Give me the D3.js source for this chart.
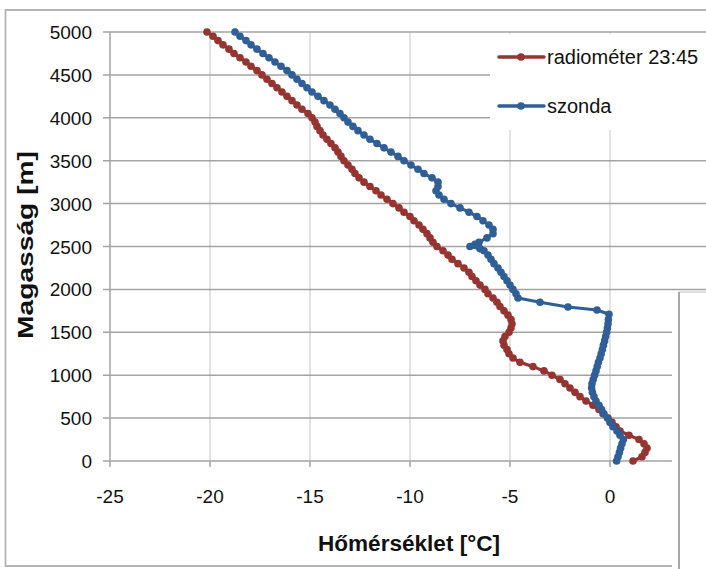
<!DOCTYPE html>
<html>
<head>
<meta charset="utf-8">
<script src="https://cdn.jsdelivr.net/npm/d3@7"></script>
<style>
  body { margin: 0; background: #fff; }
  text { font-family: "Liberation Sans", Arial, sans-serif; fill: #111; }
</style>
</head>
<body>
<script>
// radiometer profile, 50 m steps from 0 to 5000 m
var radioHeights = d3.range(0, 5001, 50);
var radioTemps = [
  1.15, 1.6, 1.75, 1.85, 1.7, 1.45, 0.95, 0.5, 0.3, 0.1,
  -0.1, -0.35, -0.55, -0.85, -1.2, -1.5, -1.75, -2.0, -2.25, -2.5,
  -2.9, -3.3, -3.85, -4.5, -4.85, -5.05, -5.15, -5.3, -5.35, -5.25,
  -5.05, -4.95, -4.9, -4.95, -5.1, -5.3, -5.5, -5.65, -5.85, -6.1,
  -6.25, -6.5, -6.7, -6.9, -7.05, -7.3, -7.6, -7.9, -8.1, -8.35,
  -8.65, -8.85, -9.0, -9.15, -9.35, -9.55, -9.8, -10.0, -10.3, -10.55,
  -10.85, -11.15, -11.45, -11.7, -12.0, -12.3, -12.55, -12.75, -12.9, -13.1,
  -13.3, -13.45, -13.6, -13.75, -13.95, -14.15, -14.35, -14.5, -14.65, -14.75,
  -14.9, -15.1, -15.4, -15.65, -15.9, -16.15, -16.4, -16.65, -16.9, -17.15,
  -17.4, -17.65, -17.95, -18.2, -18.5, -18.8, -19.05, -19.35, -19.6, -19.85,
  -20.15
];

// radiosonde profile
var sondeHeights = [
  0, 50, 100, 150, 200, 250, 300, 350, 400, 450,
  500, 550, 600, 650, 700, 750, 800, 850, 900, 950,
  1000, 1050, 1100, 1150, 1200, 1250, 1300, 1350, 1400, 1450,
  1500, 1550, 1600, 1650, 1710, 1760, 1795, 1850, 1900, 1950,
  2000, 2050, 2100, 2150, 2200, 2250, 2300, 2350, 2400, 2450,
  2475, 2500, 2525, 2550, 2600, 2650, 2700, 2750, 2800, 2850,
  2900, 2950, 3000, 3050, 3100, 3150, 3200, 3250, 3300, 3350,
  3400, 3450, 3500, 3550, 3600, 3650, 3700, 3750, 3800, 3850,
  3900, 3950, 4000, 4050, 4100, 4150, 4200, 4250, 4300, 4350,
  4400, 4450, 4500, 4550, 4600, 4650, 4700, 4750, 4800, 4850,
  4900, 4950, 5000
];
var sondeTemps = [
  0.33, 0.4, 0.47, 0.53, 0.6, 0.67, 0.5, 0.35, 0.15, 0.0,
  -0.13, -0.3, -0.42, -0.55, -0.7, -0.8, -0.88, -0.92, -0.9, -0.84,
  -0.77, -0.7, -0.64, -0.58, -0.5, -0.44, -0.38, -0.33, -0.27, -0.22,
  -0.17, -0.13, -0.1, -0.08, -0.05, -0.65, -2.1, -3.5, -4.6, -4.7,
  -4.85, -5.0, -5.15, -5.3, -5.45, -5.6, -5.8, -5.95, -6.1, -6.3,
  -6.5, -7.0, -6.75, -6.55, -6.15, -5.85, -5.85, -6.05, -6.35, -6.65,
  -7.05, -7.5, -7.95, -8.3, -8.55, -8.7, -8.6, -8.6, -8.9, -9.3,
  -9.6, -9.95, -10.3, -10.6, -10.95, -11.3, -11.65, -12.0, -12.3, -12.6,
  -12.85, -13.1, -13.3, -13.5, -13.75, -14.0, -14.3, -14.6, -14.9, -15.15,
  -15.4, -15.65, -15.9, -16.15, -16.45, -16.75, -17.05, -17.35, -17.65, -17.95,
  -18.2, -18.5, -18.75
];

// visible x ticks (the 5 tick falls under the overlapping frame)
var xTicks = [-25, -20, -15, -10, -5, 0];
var yTicks = d3.range(0, 5001, 500);
var seriesNames = ["radiométer 23:45", "szonda"];
var seriesColors = ["#953431", "#2f5f96"];

var W = 706, H = 569;
var svg = d3.select("body").append("svg").attr("width", W).attr("height", H);

var x = d3.scaleLinear().domain([-25, 5]).range([110, 710]);
var y = d3.scaleLinear().domain([0, 5000]).range([461, 32]);

// vertical grid
svg.append("g").selectAll("line").data(xTicks.slice(1)).enter().append("line")
  .attr("x1", function(d) { return x(d); }).attr("x2", function(d) { return x(d); })
  .attr("y1", y(5000)).attr("y2", y(0))
  .attr("stroke", "#d9d9d9").attr("stroke-width", 1.5);

// horizontal grid
svg.append("g").selectAll("line").data(yTicks).enter().append("line")
  .attr("x1", 103).attr("x2", 710)
  .attr("y1", function(d) { return y(d); }).attr("y2", function(d) { return y(d); })
  .attr("stroke", "#a3a3a3").attr("stroke-width", 1.5);

// y axis line
svg.append("line").attr("x1", x(-25)).attr("x2", x(-25))
  .attr("y1", y(5000)).attr("y2", y(0))
  .attr("stroke", "#a3a3a3").attr("stroke-width", 1.5);

// x ticks below axis
svg.append("g").selectAll("line").data(xTicks).enter().append("line")
  .attr("x1", function(d) { return x(d); }).attr("x2", function(d) { return x(d); })
  .attr("y1", y(0)).attr("y2", y(0) + 6)
  .attr("stroke", "#a3a3a3").attr("stroke-width", 1.5);

// tick labels
svg.append("g").selectAll("text").data(yTicks).enter().append("text")
  .attr("x", 92).attr("y", function(d) { return y(d) + 7; })
  .attr("text-anchor", "end").style("font-size", "19px")
  .text(function(d) { return d; });

svg.append("g").selectAll("text").data(xTicks).enter().append("text")
  .attr("x", function(d) { return x(d); }).attr("y", 503)
  .attr("text-anchor", "middle").style("font-size", "19px")
  .text(function(d) { return d; });

// series
var line = d3.line()
  .x(function(d) { return x(d[0]); })
  .y(function(d) { return y(d[1]); });

function drawSeries(temps, heights, color) {
  var pts = temps.map(function(t, i) { return [t, heights[i]]; });
  svg.append("path").datum(pts).attr("d", line)
    .attr("fill", "none").attr("stroke", color)
    .attr("stroke-width", 3.2).attr("stroke-linejoin", "round");
  svg.append("g").selectAll("circle").data(pts).enter().append("circle")
    .attr("cx", function(d) { return x(d[0]); })
    .attr("cy", function(d) { return y(d[1]); })
    .attr("r", 3.8).attr("fill", color);
}
drawSeries(radioTemps, radioHeights, seriesColors[0]);
drawSeries(sondeTemps, sondeHeights, seriesColors[1]);

// legend box (covers the plot)
svg.append("rect").attr("x", 490).attr("y", 34).attr("width", 220).attr("height", 96)
  .attr("fill", "#fff");
seriesNames.forEach(function(name, i) {
  var ly = 57 + i * 49;
  svg.append("line").attr("x1", 499).attr("x2", 544).attr("y1", ly).attr("y2", ly)
    .attr("stroke", seriesColors[i]).attr("stroke-width", 3.5).attr("stroke-linecap", "round");
  svg.append("circle").attr("cx", 521).attr("cy", ly).attr("r", 3.8).attr("fill", seriesColors[i]);
  svg.append("text").attr("x", 547).attr("y", ly + 7).style("font-size", "20px").text(name);
});

// overlapping frame at bottom right
svg.append("rect").attr("x", 672).attr("y", 291).attr("width", 40).attr("height", 290)
  .attr("fill", "#fff");
svg.append("line").attr("x1", 679).attr("x2", 706).attr("y1", 292).attr("y2", 292)
  .attr("stroke", "#d4d4d4").attr("stroke-width", 1.5);
svg.append("line").attr("x1", 679).attr("x2", 679).attr("y1", 292).attr("y2", H)
  .attr("stroke", "#a8a8a8").attr("stroke-width", 2);

// chart border
svg.append("path").attr("d", "M706,10 H5.5 V566 H672")
  .attr("fill", "none").attr("stroke", "#b5b5b5").attr("stroke-width", 1.8);

// axis titles
svg.append("text").attr("x", 409).attr("y", 551).attr("text-anchor", "middle")
  .attr("textLength", 182).attr("lengthAdjust", "spacingAndGlyphs")
  .style("font-size", "22px").style("font-weight", "bold")
  .text("Hőmérséklet [°C]");

svg.append("text").attr("transform", "translate(33,245) rotate(-90)")
  .attr("text-anchor", "middle")
  .attr("textLength", 188).attr("lengthAdjust", "spacingAndGlyphs")
  .style("font-size", "22px").style("font-weight", "bold")
  .text("Magasság [m]");
</script>
</body>
</html>
